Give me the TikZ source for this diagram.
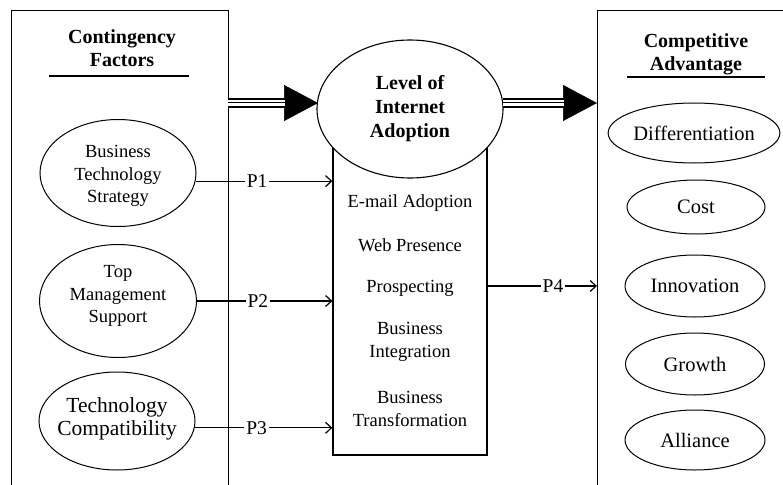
\documentclass[tikz,border=0pt]{standalone}
\usepackage{fontspec}
\setmainfont{Liberation Serif}
\usetikzlibrary{shapes.geometric,arrows.meta}
\begin{document}
\begin{tikzpicture}[x=1pt,y=-1pt,
  frame/.style={draw, line width=1.2pt, inner sep=0pt},
  oval/.style={draw, ellipse, line width=1pt, inner sep=0pt, align=center},
  smalltxt/.style={font=\fontsize{18.5}{22.5}\selectfont, align=center},
  bigtxt/.style={font=\fontsize{21.5}{23}\selectfont, align=center},
  ovaltxt/.style={font=\fontsize{20.5}{23}\selectfont, align=center},
  titletxt/.style={font=\bfseries\fontsize{20}{23}\selectfont, align=center},
  plabel/.style={fill=white, inner sep=2pt, font=\fontsize{19.5}{22}\selectfont},
  parrow/.style={line width=1.2pt, -{Straight Barb[length=6pt,width=11pt,line width=1.2pt]}},
  headarrow/.style={line width=0.5pt, -{Triangle[length=34pt,width=36pt]}},
  rule/.style={line width=2pt}
]
\useasboundingbox (0,0) rectangle (783,484);
\clip (0,0) rectangle (783,484);

% left and right frames
\node[frame, anchor=north west, minimum width=217pt, minimum height=520pt] (cf) at (11,10) {};
\node[frame, anchor=north west, minimum width=300pt, minimum height=520pt] (ca) at (597,10) {};

% titles
\node[titletxt] (cft) at (122,48) {Contingency\\Factors};
\coordinate (cfu1) at (49,76);
\coordinate (cfu2) at (189,76);
\draw[rule] (cfu1) -- (cfu2);
\node[titletxt] (cat) at (696,54) {Competitive\\Advantage};
\coordinate (cau1) at (627,77);
\coordinate (cau2) at (765,77);
\draw[rule] (cau1) -- (cau2);

% centre box and ellipse
\node[frame, minimum width=154pt, minimum height=346pt] (box) at (410,282) {};
\node[oval, fill=white, minimum width=186pt, minimum height=138pt, line width=1.1pt] (cia) at (410,109) {};
\node[titletxt, font=\bfseries\fontsize{20}{24}\selectfont] (ciat) at (410,109) {Level of\\Internet\\Adoption};

\node[smalltxt] (i1) at (410,203) {E-mail Adoption};
\node[smalltxt] (i2) at (410,245) {Web Presence};
\node[smalltxt] (i3) at (410,288) {Prospecting};
\node[smalltxt] (i4) at (410,342) {Business\\Integration};
\node[smalltxt] (i5) at (410,409) {Business\\Transformation};

% left ellipses
\node[oval, minimum width=156pt, minimum height=107pt] (e1) at (118,173) {};
\node[smalltxt] (e1t) at (118,176) {Business\\Technology\\Strategy};
\node[oval, minimum width=157pt, minimum height=113pt] (e2) at (118,301) {};
\node[smalltxt] (e2t) at (118,296) {Top\\Management\\Support};
\node[oval, minimum width=156pt, minimum height=98pt] (e3) at (117,421) {};
\node[bigtxt] (e3t) at (117,419) {Technology\\Compatibility};

% right ellipses
\node[oval, ovaltxt, minimum width=148pt, minimum height=60pt] (r1) at (694,133) {Differentiation};
\node[oval, ovaltxt, minimum width=138pt, minimum height=54pt] (r2) at (696,207) {Cost};
\node[oval, ovaltxt, minimum width=140pt, minimum height=62pt] (r3) at (695,286) {Innovation};
\node[oval, ovaltxt, minimum width=139pt, minimum height=62pt] (r4) at (695,364) {Growth};
\node[oval, ovaltxt, minimum width=140pt, minimum height=60pt] (r5) at (695,440) {Alliance};

% proposition arrows
\draw[parrow] (e1.-6) -- node[plabel, pos=0.45] (p1) {P1} (e1.-6 -| box.west);
\draw[parrow] (e2.east) -- node[plabel, pos=0.45] (p2) {P2} (e2.east -| box.west);
\draw[parrow] (e3.-5) -- node[plabel, pos=0.45] (p3) {P3} (e3.-5 -| box.west);
\coordinate (p4s) at (487,286);
\draw[parrow] (p4s) -- node[plabel, pos=0.6] (p4) {P4} (p4s -| ca.west);

% big triple arrows
\coordinate (ha) at (228,103);
\coordinate (hb) at (318,103);
\coordinate (hc) at (503,103);
\coordinate (hd) at (597,103);
\draw[headarrow] (ha) -- (hb);
\draw[headarrow] (hc) -- (hd);
\foreach \s/\e in {ha/hb, hc/hd}{
  \draw[line width=9pt, shorten >=33pt] (\s) -- (\e);
  \draw[white, line width=6pt, shorten >=33pt] (\s) -- (\e);
  \draw[line width=1pt, shorten >=33pt] (\s) -- (\e);
}
\end{tikzpicture}
\end{document}
